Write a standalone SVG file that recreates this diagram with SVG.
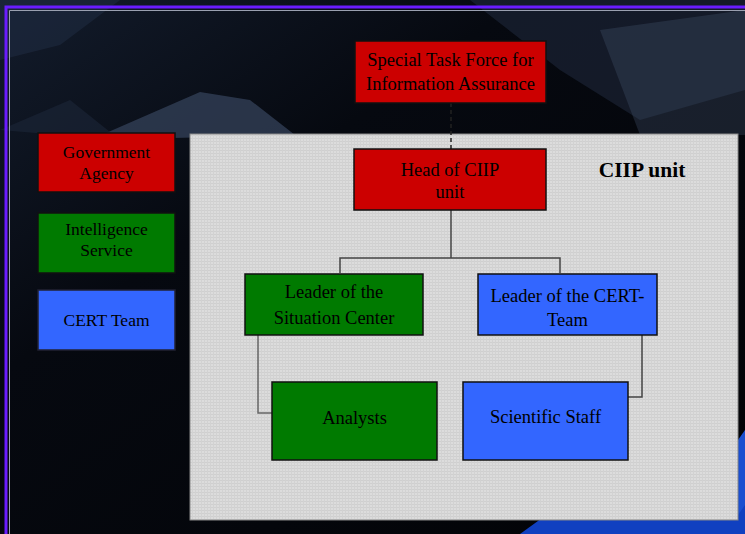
<svg xmlns="http://www.w3.org/2000/svg" width="745" height="534" viewBox="0 0 745 534">
<defs>
<linearGradient id="bg" x1="0" y1="0" x2="1" y2="1">
<stop offset="0" stop-color="#131c2c"/>
<stop offset="0.35" stop-color="#060910"/>
<stop offset="1" stop-color="#020306"/>
</linearGradient>
<pattern id="grid" width="3" height="3" patternUnits="userSpaceOnUse">
<rect width="3" height="3" fill="#dcdcdc"/>
<rect width="3" height="1" fill="#cfcfcf"/>
<rect width="1" height="3" fill="#d2d2d2"/>
</pattern>
<style>
.box{stroke:#111;stroke-width:1.5}
.red{fill:#cc0000}
.green{fill:#007a00}
.blue{fill:#3366ff}
text{font-family:"Liberation Serif","Times New Roman",serif;fill:#000;text-anchor:middle;font-size:18.5px}
.small{font-size:17.5px}
.conn{fill:none;stroke:#444;stroke-width:1.5}
.side{fill:none;stroke:#666;stroke-width:1.5}
</style>
</defs>
<g id="background">
<rect width="745" height="534" fill="url(#bg)"/>
<polygon points="90,140 200,92 250,100 295,135" fill="#34425a" opacity="0.75"/>
<polygon points="0,130 70,100 120,140" fill="#1c2638" opacity="0.6"/>
<polygon points="0,0 120,0 60,45 0,60" fill="#24314a" opacity="0.45"/>
<polygon points="470,0 745,0 745,90 640,120 560,70" fill="#2a3750" opacity="0.4"/>
<polygon points="600,30 745,10 745,135 640,135" fill="#4a5a74" opacity="0.3"/>
<polygon points="520,534 560,505 745,505 745,534" fill="#1040c0"/>
<polygon points="738,440 745,430 745,505 738,515" fill="#1a4fd0"/>
</g>
<g id="frame" fill="none">
<polyline points="6,534 6,7 745,7" stroke="#6a1cff" stroke-width="3"/>
<polyline points="9.5,534 9.5,10.5 745,10.5" stroke="#9aa0b0" stroke-width="1"/>
</g>
<g id="panel">
<rect x="190" y="134" width="548" height="386" fill="url(#grid)" stroke="#888" stroke-width="1"/>
<text x="642" y="177" style="font-size:21.5px;font-weight:bold">CIIP unit</text>
</g>
<g id="connectors">
<line x1="451" y1="103" x2="451" y2="149" stroke="#222" stroke-width="1.5" stroke-dasharray="4,3"/>
<polyline class="conn" points="451,210 451,258"/>
<polyline class="conn" points="340,273 340,258 560,258 560,273"/>
<polyline class="side" points="258,335 258,413 272,413"/>
<polyline class="conn" points="642,335 642,397 628,397"/>
</g>
<g id="task-force">
<rect class="box red" x="355" y="41" width="191" height="62"/>
<text x="450.5" y="66">Special Task Force for</text>
<text x="450.5" y="90">Information Assurance</text>
</g>
<g id="head-ciip">
<rect class="box red" x="354" y="149" width="192" height="61"/>
<text x="450" y="176">Head of CIIP</text>
<text x="450" y="198">unit</text>
</g>
<g id="leader-sc">
<rect class="box green" x="245" y="274" width="178" height="61"/>
<text x="334" y="298">Leader of the</text>
<text x="334" y="324">Situation Center</text>
</g>
<g id="leader-cert">
<rect class="box blue" x="478" y="274" width="179" height="61"/>
<text x="567.5" y="302">Leader of the CERT-</text>
<text x="567.5" y="326">Team</text>
</g>
<g id="analysts">
<rect class="box green" x="272" y="382" width="165" height="78"/>
<text x="354.5" y="424">Analysts</text>
</g>
<g id="scientific-staff">
<rect class="box blue" x="463" y="382" width="165" height="78"/>
<text x="545.5" y="423">Scientific Staff</text>
</g>
<g id="government-agency">
<rect class="box red" x="38" y="133" width="137" height="59"/>
<text class="small" x="106.5" y="158">Government</text>
<text class="small" x="106.5" y="179">Agency</text>
</g>
<g id="intelligence-service">
<rect class="box green" x="38" y="213" width="137" height="60"/>
<text class="small" x="106.5" y="235">Intelligence</text>
<text class="small" x="106.5" y="256">Service</text>
</g>
<g id="cert-team">
<rect class="box blue" x="38" y="290" width="137" height="60" style="stroke:#223"/>
<text class="small" x="106.5" y="326">CERT Team</text>
</g>
</svg>
